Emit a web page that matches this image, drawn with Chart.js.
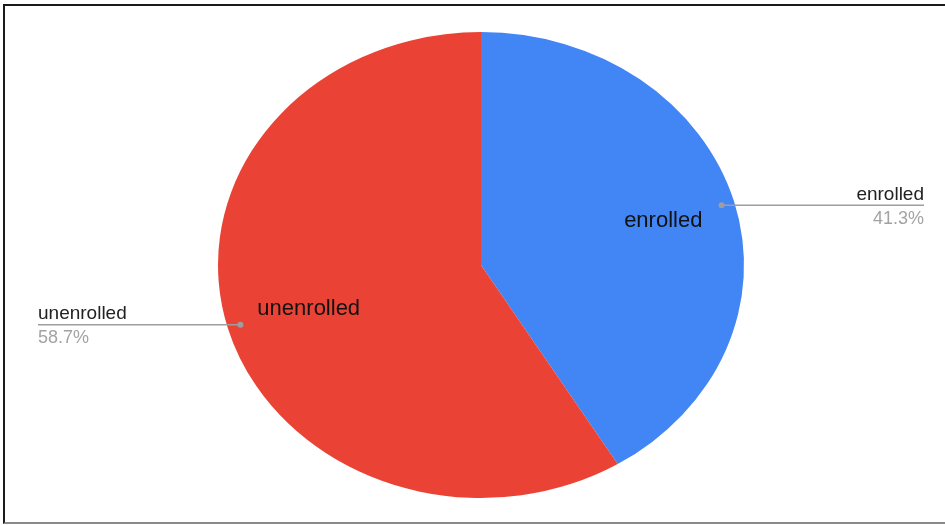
<!DOCTYPE html>
<html>
<head>
<meta charset="utf-8">
<script src="https://cdn.jsdelivr.net/npm/chart.js@4/dist/chart.umd.min.js"></script>
<style>
  html, body { margin: 0; padding: 0; background: #fff; overflow: hidden; }
  #wrap { position: relative; width: 945px; height: 525px; }
  #pie { position: absolute; left: 0; top: 0; }
  #frame {
    position: absolute; left: 3px; top: 4px; width: 960px; height: 516px;
    border-top: 2px solid #1a1a1a; border-left: 2px solid #1a1a1a;
    border-bottom: 2px solid #8a8a8a; pointer-events: none;
  }
</style>
</head>
<body>
<div id="wrap">
  <canvas id="pie" width="945" height="525"></canvas>
  <div id="frame"></div>
</div>
<script>
const labels = ["enrolled", "unenrolled"];
const values = [41.3, 58.7];
const colors = ["#4285f4", "#ea4335"];

// the reference pie is an ellipse, stretch it horizontally
const stretchX = 263 / 233;

const total = values.reduce((a, b) => a + b, 0);

function spot(arc, frac) {
  const mid = (arc.startAngle + arc.endAngle) / 2;
  return {
    x: arc.x + Math.cos(mid) * arc.outerRadius * frac * stretchX,
    y: arc.y + Math.sin(mid) * arc.outerRadius * frac,
  };
}

const ellipsePlugin = {
  id: "ellipse",
  beforeDatasetsDraw(chart) {
    const arc = chart.getDatasetMeta(0).data[0];
    const ctx = chart.ctx;
    ctx.save();
    ctx.translate(arc.x, arc.y);
    ctx.scale(stretchX, 1);
    ctx.translate(-arc.x, -arc.y);
  },
  afterDatasetsDraw(chart) {
    chart.ctx.restore();
  },
  afterDraw(chart) {
    const ctx = chart.ctx;
    const arcs = chart.getDatasetMeta(0).data;
    ctx.save();
    arcs.forEach((arc, i) => {
      // label inside the slice
      const inner = spot(arc, 0.70);
      ctx.font = "22px 'Liberation Sans', Arial, sans-serif";
      ctx.fillStyle = "#111";
      ctx.textAlign = "center";
      ctx.textBaseline = "middle";
      ctx.fillText(labels[i], inner.x + 5, inner.y);

      // leader line to the outside label
      const dot = spot(arc, 0.95);
      const right = dot.x > arc.x;
      const endX = right ? 924 : 38;
      ctx.strokeStyle = "#9e9e9e";
      ctx.lineWidth = 1.5;
      ctx.beginPath();
      ctx.moveTo(dot.x, dot.y);
      ctx.lineTo(endX, dot.y);
      ctx.stroke();
      ctx.fillStyle = "#9e9e9e";
      ctx.beginPath();
      ctx.arc(dot.x, dot.y, 3, 0, Math.PI * 2);
      ctx.fill();

      ctx.textAlign = right ? "right" : "left";
      ctx.textBaseline = "alphabetic";
      ctx.font = "19px 'Liberation Sans', Arial, sans-serif";
      ctx.fillStyle = "#222";
      ctx.fillText(labels[i], endX, dot.y - 5.5);
      ctx.font = "18px 'Liberation Sans', Arial, sans-serif";
      ctx.fillStyle = "#a3a3a3";
      ctx.fillText((values[i] / total * 100).toFixed(1) + "%", endX, dot.y + 18.5);
    });
    ctx.restore();
  },
};

new Chart(document.getElementById("pie"), {
  type: "pie",
  data: {
    labels: labels,
    datasets: [{
      data: values,
      backgroundColor: colors,
      borderWidth: 0,
    }],
  },
  options: {
    responsive: false,
    animation: false,
    layout: { padding: { left: 218, right: 201, top: 32, bottom: 27 } },
    plugins: {
      legend: { display: false },
      tooltip: { enabled: false },
    },
  },
  plugins: [ellipsePlugin],
});
</script>
</body>
</html>
